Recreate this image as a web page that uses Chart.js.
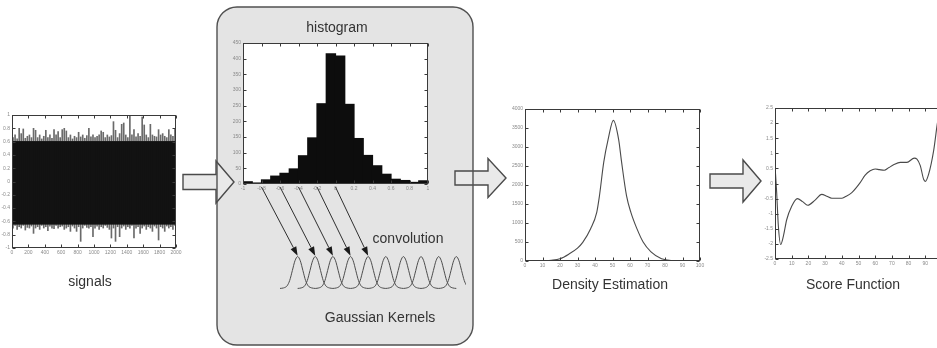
<!DOCTYPE html>
<html>
<head>
<meta charset="utf-8">
<script src="https://cdn.jsdelivr.net/npm/chart.js@4.4.1/dist/chart.umd.min.js"></script>
<style>
  html, body { margin: 0; padding: 0; background: #fff; }
  body { width: 937px; height: 348px; position: relative; overflow: hidden;
         font-family: "Liberation Sans", Arial, sans-serif; }
  canvas.pane { position: absolute; }
  svg.layer { position: absolute; left: 0; top: 0; }
  .caption { position: absolute; font-size: 14px; line-height: 16px; color: #333;
             white-space: nowrap; transform: translateX(-50%); }
</style>
</head>
<body>
<svg id="back" class="layer" width="937" height="348"></svg>

<canvas id="signalChart" class="pane"></canvas>
<canvas id="histChart" class="pane"></canvas>
<canvas id="kernelChart" class="pane"></canvas>
<canvas id="densityChart" class="pane"></canvas>
<canvas id="scoreChart" class="pane"></canvas>

<svg id="front" class="layer" width="937" height="348"></svg>

<div class="caption" style="left:90px; top:273px;">signals</div>
<div class="caption" style="left:337px; top:19px;">histogram</div>
<div class="caption" style="left:408px; top:230px;">convolution</div>
<div class="caption" style="left:380px; top:309px;">Gaussian Kernels</div>
<div class="caption" style="left:610px; top:276px;">Density Estimation</div>
<div class="caption" style="left:853px; top:276px;">Score Function</div>

<script>
// ---- raw signal, summarised per bin of 25 samples (peak / trough of each bin) ----
const signalBinWidth = 25;
const signalHigh = [
  0.66, 0.70, 0.64, 0.80, 0.72, 0.79, 0.65, 0.68, 0.70, 0.66,
  0.80, 0.77, 0.66, 0.70, 0.64, 0.68, 0.77, 0.66, 0.70, 0.65,
  0.78, 0.70, 0.75, 0.66, 0.78, 0.80, 0.76, 0.66, 0.70, 0.64,
  0.68, 0.66, 0.74, 0.67, 0.70, 0.65, 0.69, 0.80, 0.67, 0.70,
  0.66, 0.68, 0.70, 0.76, 0.74, 0.66, 0.70, 0.67, 0.69, 0.90,
  0.77, 0.66, 0.72, 0.86, 0.88, 0.70, 0.66, 0.98, 0.70, 0.78,
  0.67, 0.72, 0.68, 0.97, 0.85, 0.70, 0.66, 0.86, 0.70, 0.68,
  0.67, 0.78, 0.70, 0.72, 0.68, 0.66, 0.78, 0.70, 0.68, 0.80
];
const signalLow = [
  -0.70, -0.66, -0.72, -0.68, -0.70, -0.66, -0.73, -0.69, -0.70, -0.67,
  -0.78, -0.70, -0.68, -0.72, -0.66, -0.70, -0.68, -0.74, -0.67, -0.70,
  -0.71, -0.66, -0.70, -0.68, -0.67, -0.72, -0.70, -0.68, -0.75, -0.67,
  -0.70, -0.75, -0.68, -0.90, -0.70, -0.66, -0.69, -0.70, -0.68, -0.83,
  -0.70, -0.67, -0.72, -0.68, -0.70, -0.66, -0.69, -0.72, -0.85, -0.70,
  -0.90, -0.68, -0.83, -0.70, -0.67, -0.72, -0.68, -0.70, -0.66, -0.85,
  -0.70, -0.68, -0.78, -0.70, -0.67, -0.72, -0.68, -0.70, -0.75, -0.67,
  -0.70, -0.88, -0.68, -0.70, -0.75, -0.67, -0.70, -0.68, -0.72, -0.66
];
const signalCore = [-0.63, 0.59];   // dense body of the signal

// ---- histogram of the signal amplitudes (bins of 0.1 from -1 to 1) ----
const histBinStart = -1;
const histBinWidth = 0.1;
const histCounts = [7, 3, 13, 25, 34, 48, 90, 147, 256, 415,
                    408, 254, 145, 91, 58, 31, 15, 11, 5, 10];

// ---- Gaussian kernel: one profile, repeated at each centre ----
const kernelOffsets = [-1.0, -0.8, -0.6, -0.45, -0.3, -0.15, 0, 0.15, 0.3, 0.45, 0.6, 0.8, 1.0];
const kernelHeights = [0, 0.015, 0.08, 0.25, 0.56, 0.87, 1, 0.87, 0.56, 0.25, 0.08, 0.015, 0];
const kernelCenters = [0, 1, 2, 3, 4, 5, 6, 7, 8, 9];

// histogram positions feeding the first kernels
const arrowSourceValues = [-0.8, -0.6, -0.4, -0.2, 0];
const arrowTargetKernels = [0, 1, 2, 3, 4];

// ---- estimated density ----
const densityX = [10, 15, 20, 25, 30, 33, 37.5, 41, 42.5, 45, 47.5, 50.5, 53.5, 55.2, 58, 60.5, 64, 67.5, 72, 78, 85, 90, 95];
const densityY = [3, 20, 60, 180, 340, 490, 850, 1280, 1700, 2600, 3200, 3700, 3200, 2600, 1720, 1280, 845, 500, 240, 60, 10, 3, 0];

// ---- score function ----
const scoreX = [0, 1, 2, 3.4, 5, 7, 10, 13.4, 16.5, 19.6, 24, 28, 31, 34, 40, 42, 46, 51, 54, 57,
                60, 62.5, 65.4, 68, 71, 75, 79, 83.4, 85, 87, 89, 90, 92, 95, 97.2, 98.5];
const scoreY = [0.59, -0.3, -1.4, -2.02, -1.75, -1.2, -0.75, -0.5, -0.6, -0.72, -0.55, -0.36, -0.42, -0.49, -0.49, -0.44, -0.3, 0.03, 0.28, 0.42,
                0.48, 0.46, 0.44, 0.52, 0.62, 0.7, 0.7, 0.84, 0.81, 0.59, 0.14, 0.07, 0.31, 1.09, 1.98, 2.4];

// ------------------------------------------------------------------------
Chart.defaults.font.family = '"Liberation Sans", Arial, sans-serif';
Chart.defaults.animation = false;

const AXIS_W = 14, AXIS_H = 10, PAD_T = 5, PAD_R = 8;
const tickFont = { size: 5 };
const tickColor = '#8a8a8a';

// MATLAB-like frame: white plot area, box border, inward tick marks on all sides
const framePlugin = {
  id: 'frame',
  beforeDraw(chart) {
    const { ctx, chartArea: a } = chart;
    ctx.save();
    ctx.fillStyle = '#ffffff';
    ctx.fillRect(a.left, a.top, a.right - a.left, a.bottom - a.top);
    ctx.restore();
  },
  afterDatasetsDraw(chart) {
    const { ctx, chartArea: a, scales } = chart;
    const L = Math.round(a.left) + 0.5, R = Math.round(a.right) - 0.5;
    const T = Math.round(a.top) + 0.5, B = Math.round(a.bottom) - 0.5;
    ctx.save();
    ctx.strokeStyle = '#3a3a3a';
    ctx.lineWidth = 1;
    ctx.strokeRect(L, T, R - L, B - T);
    ctx.beginPath();
    scales.x.ticks.forEach((t, i) => {
      const x = Math.round(scales.x.getPixelForTick(i)) + 0.5;
      ctx.moveTo(x, B); ctx.lineTo(x, B - 3);
      ctx.moveTo(x, T); ctx.lineTo(x, T + 3);
    });
    scales.y.ticks.forEach((t, i) => {
      const y = Math.round(scales.y.getPixelForTick(i)) + 0.5;
      ctx.moveTo(L, y); ctx.lineTo(L + 3, y);
      ctx.moveTo(R, y); ctx.lineTo(R - 3, y);
    });
    ctx.stroke();
    ctx.restore();
  }
};

function fixedAxis(s) {
  if (s.isHorizontal()) { s.height = AXIS_H; s.paddingLeft = 0; s.paddingRight = 0; }
  else { s.width = AXIS_W; s.paddingTop = 0; s.paddingBottom = 0; }
}

// plain tick text: 1000 rather than 1,000 and 1 rather than 1.0
const plainTick = v => String(Number(Number(v).toFixed(3)));

function axis(min, max, step) {
  return {
    type: 'linear', min, max, offset: false,
    grid: { display: false, drawTicks: false }, border: { display: false },
    ticks: { stepSize: step, font: tickFont, color: tickColor, padding: 2,
             maxRotation: 0, autoSkip: false, callback: plainTick },
    afterFit: fixedAxis
  };
}

// plot areas (pixel boxes on the page)
function framedChart(id, plot, config) {
  const c = document.getElementById(id);
  const w = Math.round(plot.r - plot.l + AXIS_W + PAD_R);
  const h = Math.round(plot.b - plot.t + PAD_T + AXIS_H);
  c.width = w; c.height = h;
  c.style.left = (plot.l - AXIS_W) + 'px';
  c.style.top = (plot.t - PAD_T) + 'px';
  config.options.responsive = false;
  config.options.layout = { padding: { top: PAD_T, right: PAD_R, left: 0, bottom: 0 } };
  config.options.plugins = Object.assign({ legend: { display: false }, tooltip: { enabled: false } },
                                         config.options.plugins || {});
  config.plugins = [framePlugin];
  const chart = new Chart(c, config);
  chart._pageLeft = plot.l - AXIS_W;
  chart._pageTop = plot.t - PAD_T;
  return chart;
}

// ---- signals ----
const signalCenters = signalHigh.map((_, i) => (i + 0.5) * signalBinWidth);
framedChart('signalChart', { l: 12, r: 176, t: 115, b: 248 }, {
  type: 'bar',
  data: {
    datasets: [
      { data: signalCenters.map((x, i) => ({ x, y: [signalLow[i], signalHigh[i]] })),
        backgroundColor: '#6a6a6a', barThickness: 1, grouped: false, order: 2 },
      { data: signalCenters.map(x => ({ x, y: signalCore })),
        backgroundColor: '#121212', categoryPercentage: 1, barPercentage: 1,
        inflateAmount: 1, grouped: false, order: 1 }
    ]
  },
  options: { scales: { x: axis(0, 2000, 200), y: axis(-1, 1, 0.2) } }
});

// ---- histogram ----
const histCenters = histCounts.map((_, i) => histBinStart + (i + 0.5) * histBinWidth);
const histChart = framedChart('histChart', { l: 243, r: 428, t: 43, b: 184 }, {
  type: 'bar',
  data: {
    datasets: [{ data: histCenters.map((x, i) => ({ x, y: histCounts[i] })),
                 backgroundColor: '#0d0d0d', categoryPercentage: 1, barPercentage: 1,
                 inflateAmount: 0.6 }]
  },
  options: { scales: { x: axis(-1, 1, 0.2), y: axis(0, 450, 50) } }
});

// ---- density estimation ----
framedChart('densityChart', { l: 525, r: 700, t: 109, b: 261 }, {
  type: 'line',
  data: {
    datasets: [{ data: densityX.map((x, i) => ({ x, y: densityY[i] })),
                 borderColor: '#4a4a4a', borderWidth: 1.1, pointRadius: 0,
                 cubicInterpolationMode: 'monotone', fill: false }]
  },
  options: { scales: { x: axis(0, 100, 10), y: axis(0, 4000, 500) } }
});

// ---- score function ----
framedChart('scoreChart', { l: 775, r: 942, t: 108, b: 259 }, {
  type: 'line',
  data: {
    datasets: [{ data: scoreX.map((x, i) => ({ x, y: scoreY[i] })),
                 borderColor: '#4a4a4a', borderWidth: 1.1, pointRadius: 0,
                 cubicInterpolationMode: 'monotone', fill: false }]
  },
  options: { scales: { x: axis(0, 100, 10), y: axis(-2.5, 2.5, 0.5) } }
});

// ---- Gaussian kernels (no axes) ----
const kernelBox = { l: 280, r: 466.4, t: 255.1, b: 289.6 };
const kc = document.getElementById('kernelChart');
kc.width = Math.round(kernelBox.r - kernelBox.l);
kc.height = Math.round(kernelBox.b - kernelBox.t);
kc.style.left = kernelBox.l + 'px';
kc.style.top = kernelBox.t + 'px';
const kernelChart = new Chart(kc, {
  type: 'line',
  data: {
    datasets: kernelCenters.map(c => ({
      data: kernelOffsets.map((d, i) => ({ x: c + d, y: kernelHeights[i] })),
      borderColor: '#4d4d4d', borderWidth: 1, pointRadius: 0,
      cubicInterpolationMode: 'monotone', fill: false, clip: false
    }))
  },
  options: {
    responsive: false,
    layout: { padding: 0 },
    plugins: { legend: { display: false }, tooltip: { enabled: false } },
    scales: {
      x: { type: 'linear', min: -1, max: 9.55, display: false },
      y: { type: 'linear', min: -0.05, max: 1.05, display: false }
    }
  }
});

// ---- diagram decoration (panel, hollow arrows, convolution arrows) ----
const NS = 'http://www.w3.org/2000/svg';
function el(parent, tag, attrs) {
  const e = document.createElementNS(NS, tag);
  for (const k in attrs) e.setAttribute(k, attrs[k]);
  parent.appendChild(e);
  return e;
}
const back = document.getElementById('back');
const panel = { x: 217, y: 7, w: 256, h: 338, r: 20 };
el(back, 'rect', { x: panel.x, y: panel.y, width: panel.w, height: panel.h, rx: panel.r, ry: panel.r,
                   fill: '#e4e4e4', stroke: 'none' });

function hollowArrow(x0, x1, x2, cy, shaftHalf, headHalf) {
  const pts = [
    [x0, cy - shaftHalf], [x1, cy - shaftHalf], [x1, cy - headHalf], [x2, cy],
    [x1, cy + headHalf], [x1, cy + shaftHalf], [x0, cy + shaftHalf]
  ].map(p => p.join(',')).join(' ');
  el(back, 'polygon', { points: pts, fill: '#e9e9e9', stroke: '#4a4a4a', 'stroke-width': 1.4,
                        'stroke-linejoin': 'miter' });
}
hollowArrow(183, 216, 234, 182, 7.5, 21);
hollowArrow(455, 488, 506, 178, 7, 19.5);
hollowArrow(710, 743, 761, 181, 7, 21);

el(back, 'rect', { x: panel.x, y: panel.y, width: panel.w, height: panel.h, rx: panel.r, ry: panel.r,
                   fill: 'none', stroke: '#505050', 'stroke-width': 1.4 });

const front = document.getElementById('front');
const hx = histChart.scales.x;
const kx = kernelChart.scales.x, ky = kernelChart.scales.y;
arrowSourceValues.forEach((v, i) => {
  const sx = histChart._pageLeft + hx.getPixelForValue(v);
  const sy = histChart._pageTop + histChart.chartArea.bottom + 3;
  const ex = kernelBox.l + kx.getPixelForValue(kernelCenters[arrowTargetKernels[i]]);
  const ey = kernelBox.t + ky.getPixelForValue(1) - 1;
  const dx = ex - sx, dy = ey - sy, len = Math.hypot(dx, dy);
  const ux = dx / len, uy = dy / len;
  const hl = 9, hw = 3.2;
  const bx = ex - ux * hl, by = ey - uy * hl;
  el(front, 'line', { x1: sx, y1: sy, x2: bx, y2: by, stroke: '#2e2e2e', 'stroke-width': 1 });
  el(front, 'polygon', {
    points: [[ex, ey], [bx - uy * hw, by + ux * hw], [bx + uy * hw, by - ux * hw]]
      .map(p => p.join(',')).join(' '),
    fill: '#1a1a1a'
  });
});
</script>
</body>
</html>
